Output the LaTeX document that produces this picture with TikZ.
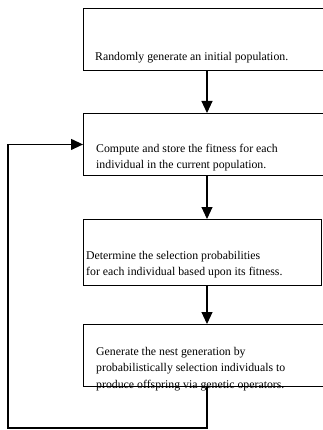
\documentclass[tikz,border=0pt]{standalone}
\usepackage{fontspec}
\setmainfont{Liberation Serif}
\usetikzlibrary{arrows.meta}
\tikzset{
  box/.style={draw,line width=0.9pt,anchor=north west,inner sep=0pt,minimum height=62pt},
  txt/.style={anchor=base west,inner sep=0pt,align=left,font=\fontsize{11.8}{16.5}\selectfont},
  arr/.style={line width=1.1pt,-{Triangle[length=12pt,width=11pt]}}
}
\begin{document}
\begin{tikzpicture}[x=1pt,y=-1pt]
  \useasboundingbox (0,0) rectangle (323,430);
  \node[box,minimum width=244pt] (b1) at (83,8) {};
  \node[box,minimum width=244pt] (b2) at (83,113) {};
  \node[box,minimum width=238pt,minimum height=66pt] (b3) at (83,219) {};
  \node[box,minimum width=244pt] (b4) at (83,324) {};
  \node[txt] (t1) at (95,61) {Randomly generate an initial population.};
  \node[txt] (t2) at (96,168.5) {Compute and store the fitness for each\\individual in the current population.};
  \node[txt] (t3) at (86,275.5) {Determine the selection probabilities\\for each individual based upon its fitness.};
  \node[txt] (t4) at (96,388) {Generate the nest generation by\\probabilistically selection individuals to\\produce offspring via genetic operators.};
  \coordinate (ax) at (207,0);
  \coordinate (lb) at (8,428);
  \draw[arr] (b1.south -| ax) -- (b2.north -| ax);
  \draw[arr] (b2.south -| ax) -- (b3.north -| ax);
  \draw[arr] (b3.south -| ax) -- (b4.north -| ax);
  \draw[arr] (b4.south -| ax) |- (lb) |- (b2.west);
\end{tikzpicture}
\end{document}
